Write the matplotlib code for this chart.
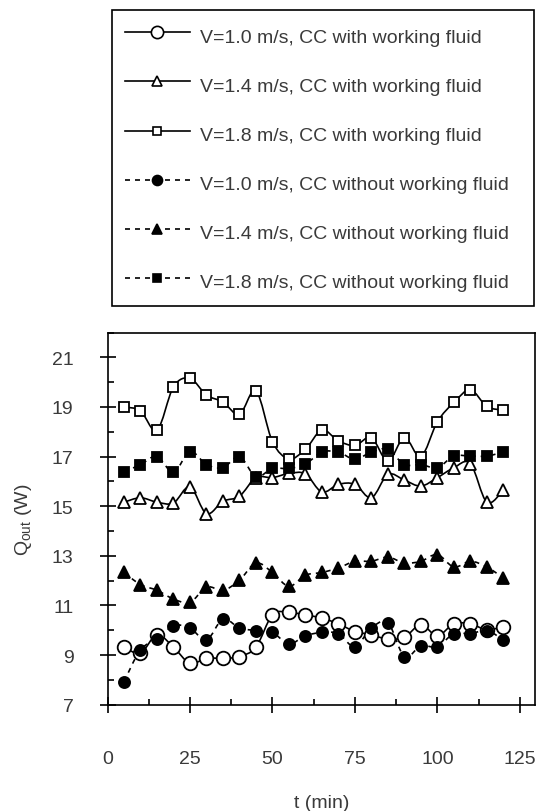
import matplotlib
matplotlib.use("Agg")
import matplotlib.pyplot as plt
from matplotlib.path import Path
from matplotlib.patches import PathPatch
from matplotlib.lines import Line2D
from matplotlib.ticker import MultipleLocator
import numpy as np

plt.rcParams['font.family'] = ['Liberation Sans', 'DejaVu Sans']
plt.rcParams['mathtext.fontset'] = 'custom'
plt.rcParams['mathtext.rm'] = 'Liberation Sans'
plt.rcParams['mathtext.it'] = 'Liberation Sans:italic'

TXT = '#3a3a3a'

# ---- data ----
t_min = [5, 10, 15, 20, 25, 30, 35, 40, 45, 50, 55, 60,
         65, 70, 75, 80, 85, 90, 95, 100, 105, 110, 115, 120]

q_10_with = [9.32, 9.08, 9.82, 9.32, 8.67, 8.87, 8.87, 8.94, 9.32, 10.62, 10.72, 10.62,
             10.49, 10.26, 9.95, 9.82, 9.64, 9.72, 10.22, 9.78, 10.26, 10.26, 10.02, 10.15]
q_14_with = [15.16, 15.34, 15.16, 15.13, 15.78, 14.70, 15.20, 15.40, 16.15, 16.15, 16.32, 16.30,
             15.57, 15.88, 15.88, 15.34, 16.28, 16.05, 15.81, 16.15, 16.55, 16.72, 15.16, 15.65]
q_18_with = [19.00, 18.84, 18.06, 19.81, 20.15, 19.48, 19.20, 18.70, 19.65, 17.60, 16.91, 17.29,
             18.07, 17.63, 17.45, 17.76, 16.82, 17.76, 17.00, 18.40, 19.18, 19.69, 19.02, 18.87]
q_10_without = [7.93, 9.21, 9.64, 10.18, 10.09, 9.61, 10.45, 10.09, 9.99, 9.91, 9.45, 9.78,
                9.91, 9.86, 9.34, 10.09, 10.31, 8.94, 9.37, 9.34, 9.86, 9.86, 9.99, 9.61]
q_14_without = [12.33, 11.84, 11.61, 11.26, 11.12, 11.74, 11.61, 12.01, 12.71, 12.33, 11.77, 12.22,
                12.33, 12.51, 12.78, 12.78, 12.95, 12.71, 12.78, 13.05, 12.55, 12.78, 12.55, 12.11]
q_18_without = [16.37, 16.68, 17.00, 16.37, 17.20, 16.68, 16.55, 17.00, 16.19, 16.52, 16.52, 16.70,
                17.18, 17.18, 16.89, 17.18, 17.29, 16.68, 16.68, 16.55, 17.02, 17.02, 17.02, 17.18]

labels = ["V=1.0 m/s, CC with working fluid",
          "V=1.4 m/s, CC with working fluid",
          "V=1.8 m/s, CC with working fluid",
          "V=1.0 m/s, CC without working fluid",
          "V=1.4 m/s, CC without working fluid",
          "V=1.8 m/s, CC without working fluid"]

x_ticks = [0, 25, 50, 75, 100, 125]
y_ticks = [7, 9, 11, 13, 15, 17, 19, 21]

series = [
    (q_10_with, 'o', 'white', 9.8, '-'),
    (q_14_with, '^', 'white', 8.0, '-'),
    (q_18_with, 's', 'white', 7.0, '-'),
    (q_10_without, 'o', 'black', 8.0, (0, (3, 3))),
    (q_14_without, '^', 'black', 8.0, (0, (3, 3))),
    (q_18_without, 's', 'black', 7.0, (0, (3, 3))),
]


def smooth_path(x, y):
    """Catmull-Rom style cubic Bezier path through the data points (Excel-like smoothing)."""
    P = np.column_stack([x, y]).astype(float)
    n = len(P)
    verts = [P[0]]
    codes = [Path.MOVETO]
    for i in range(n - 1):
        p0 = P[i - 1] if i > 0 else P[i]
        p1 = P[i]
        p2 = P[i + 1]
        p3 = P[i + 2] if i + 2 < n else P[i + 1]
        c1 = p1 + (p2 - p0) / 6.0
        c2 = p2 - (p3 - p1) / 6.0
        verts += [c1, c2, p2]
        codes += [Path.CURVE4] * 3
    return Path(np.array(verts), codes)


W, H = 540, 812
fig = plt.figure(figsize=(W / 100, H / 100), dpi=100)

ax_l, ax_r, ax_t, ax_b = 107.5, 535.0, 333.5, 705.7
ax = fig.add_axes([ax_l / W, 1 - ax_b / H, (ax_r - ax_l) / W, (ax_b - ax_t) / H])

handles = []
for (q, mk, fc, ms, ls), lab in zip(series, labels):
    patch = PathPatch(smooth_path(t_min, q), fill=False, edgecolor='black',
                      lw=1.2, linestyle=ls, zorder=2, capstyle='butt')
    ax.add_patch(patch)
    ax.plot(t_min, q, linestyle='none', marker=mk, ms=ms, mfc=fc, mec='black',
            mew=1.3, zorder=3)
    handles.append(Line2D([], [], color='black', lw=1.2, linestyle=ls, marker=mk,
                          ms=ms * 0.9, mfc=fc, mec='black', mew=1.2, label=lab))

ax.set_xlim(0, 129.6)
ax.set_ylim(7, 22)
ax.set_xticks(x_ticks)
ax.set_yticks(y_ticks)
ax.xaxis.set_minor_locator(MultipleLocator(12.5))
ax.yaxis.set_minor_locator(MultipleLocator(1))

for s in ax.spines.values():
    s.set_linewidth(1.2)
    s.set_color('black')

ax.tick_params(which='major', direction='inout', length=11, width=1.2,
               labelsize=14, labelcolor=TXT, color='black')
ax.tick_params(axis='x', which='major', pad=27)
ax.tick_params(axis='y', which='major', pad=19)
ax.tick_params(which='minor', direction='in', length=4.5, width=1.2, color='black')

ax.set_xlabel('t (min)', fontsize=14, color=TXT)
ax.set_ylabel(r'Q$_{\mathrm{out}}$ (W)', fontsize=14, color=TXT)
ax.xaxis.set_label_coords(0.5, (ax_b - 795) / (ax_b - ax_t))
ax.yaxis.set_label_coords((34 - ax_l) / (ax_r - ax_l), 0.5)

lg_l, lg_r, lg_t, lg_b = 111.7, 534.0, 11.0, 305.7
leg = fig.legend(handles=handles, loc='upper left',
                 bbox_to_anchor=(lg_l / W, 1 - lg_b / H, (lg_r - lg_l) / W, (lg_b - lg_t) / H),
                 mode='expand', borderaxespad=0, fontsize=14, frameon=True,
                 fancybox=False, edgecolor='black', framealpha=1,
                 handlelength=3.34, handletextpad=0.51, borderpad=0.68,
                 handleheight=1.52, labelspacing=1.29, numpoints=1)
leg.get_frame().set_linewidth(1.2)
for txt in leg.get_texts():
    txt.set_color(TXT)

fig.savefig('out.png', dpi=100)
